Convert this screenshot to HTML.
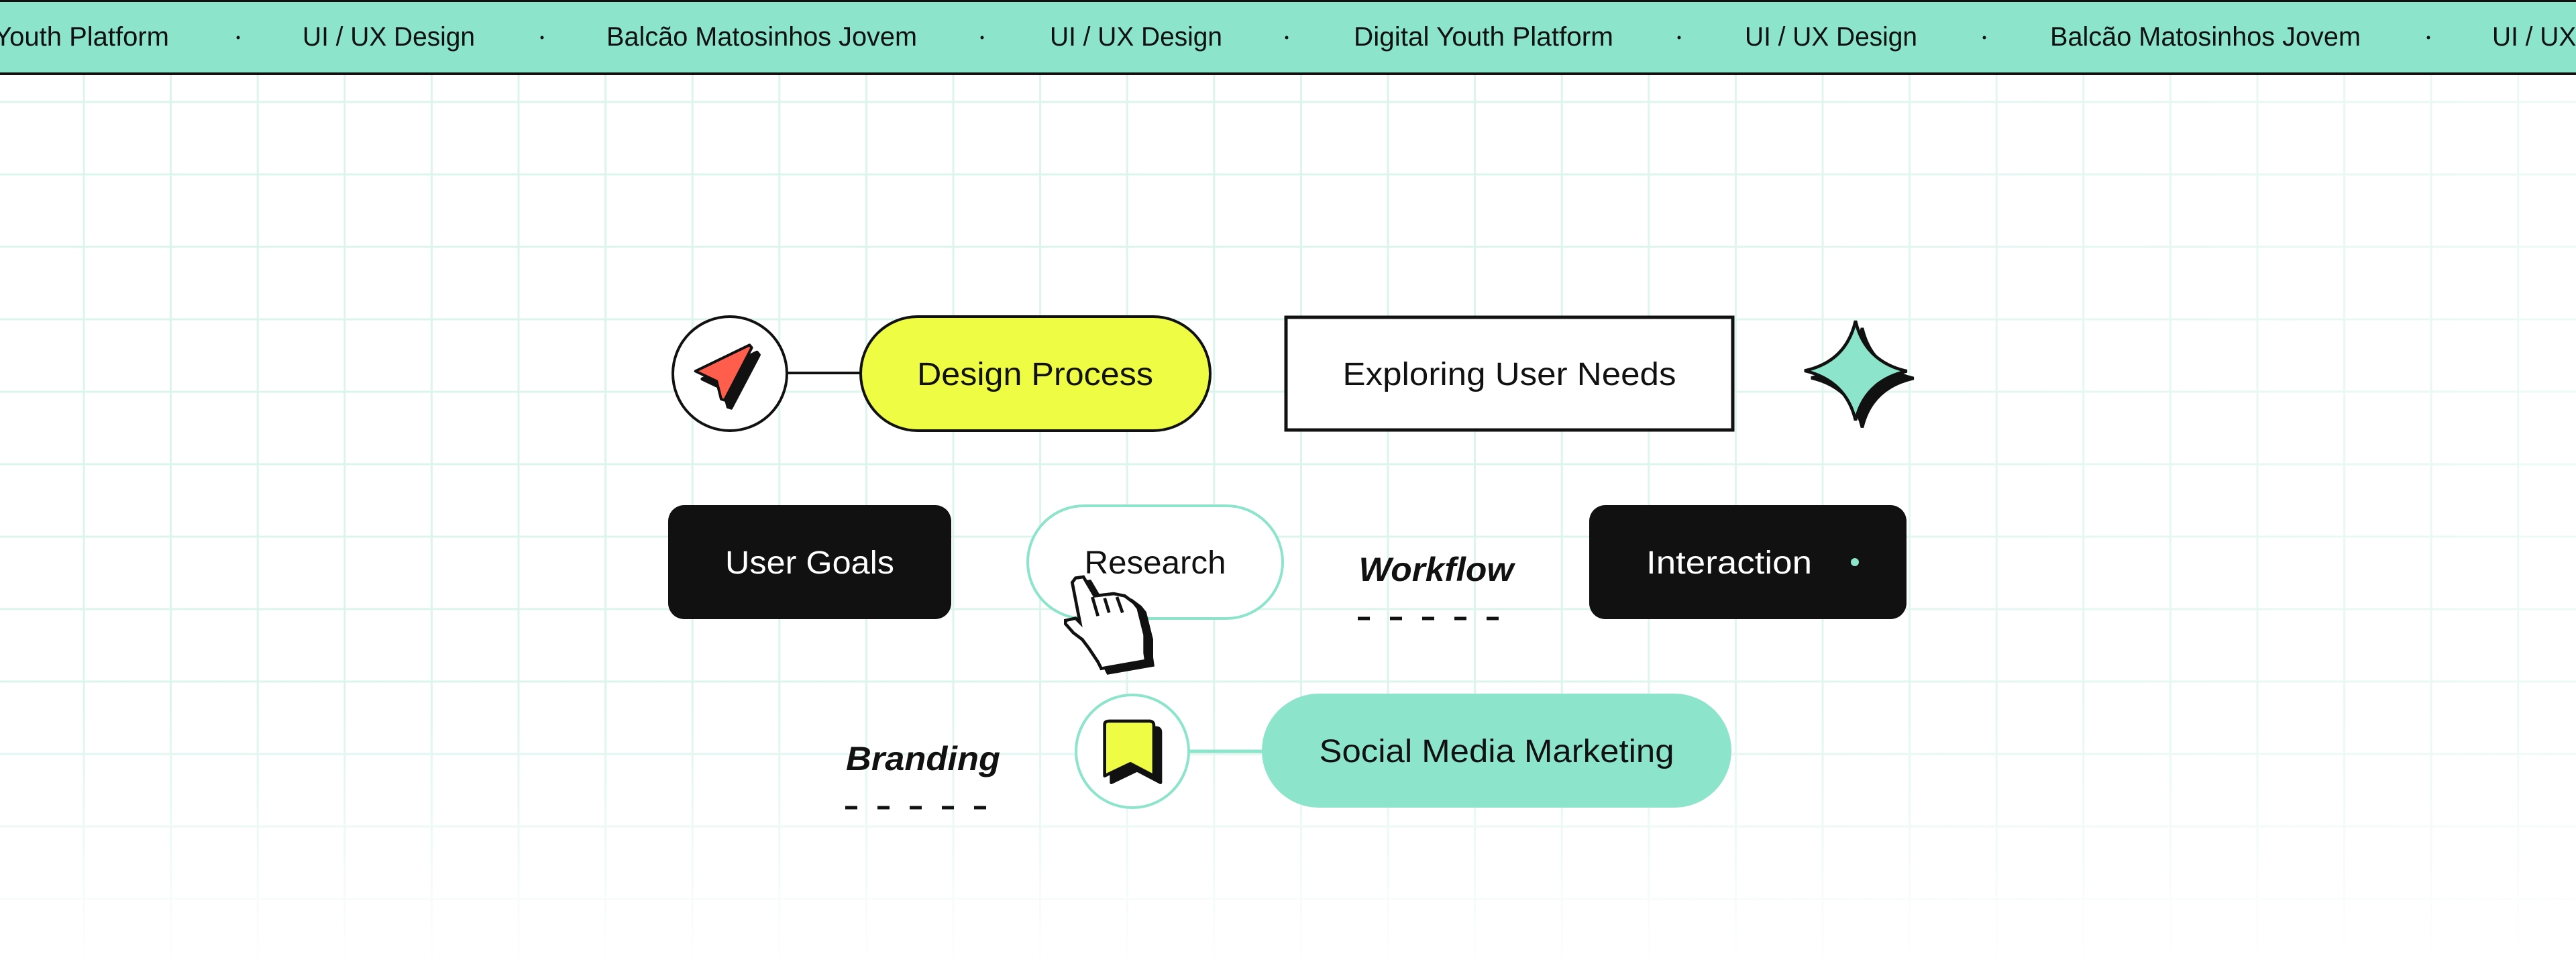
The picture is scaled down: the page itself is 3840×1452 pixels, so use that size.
<!DOCTYPE html>
<html><head><meta charset="utf-8"><style>
html,body{margin:0;padding:0;background:#fff;}
svg{display:block;}
text{font-family:"Liberation Sans",sans-serif;}
</style></head><body>
<svg width="3840" height="1452" viewBox="0 0 3840 1452" xmlns="http://www.w3.org/2000/svg">
<defs>
<linearGradient id="fx" x1="0" y1="0" x2="1" y2="0">
<stop offset="0" stop-color="#fff"/>
<stop offset="0.6" stop-color="#fff"/>
<stop offset="1" stop-color="#888"/>
</linearGradient>
<linearGradient id="fy" x1="0" y1="0" x2="0" y2="1">
<stop offset="0" stop-color="#fff"/>
<stop offset="0.72" stop-color="#fff"/>
<stop offset="1" stop-color="#000"/>
</linearGradient>
<mask id="m1"><rect width="3840" height="1452" fill="url(#fy)"/></mask>
<mask id="m2"><rect width="3840" height="1452" fill="url(#fx)"/></mask>
</defs>
<g mask="url(#m1)"><g mask="url(#m2)" stroke="#dcf4ec" stroke-width="3">
<line x1="125" y1="0" x2="125" y2="1452"/><line x1="254.6" y1="0" x2="254.6" y2="1452"/><line x1="384.2" y1="0" x2="384.2" y2="1452"/><line x1="513.8" y1="0" x2="513.8" y2="1452"/><line x1="643.4" y1="0" x2="643.4" y2="1452"/><line x1="773" y1="0" x2="773" y2="1452"/><line x1="902.6" y1="0" x2="902.6" y2="1452"/><line x1="1032.2" y1="0" x2="1032.2" y2="1452"/><line x1="1161.8" y1="0" x2="1161.8" y2="1452"/><line x1="1291.4" y1="0" x2="1291.4" y2="1452"/><line x1="1421" y1="0" x2="1421" y2="1452"/><line x1="1550.6" y1="0" x2="1550.6" y2="1452"/><line x1="1680.2" y1="0" x2="1680.2" y2="1452"/><line x1="1809.8" y1="0" x2="1809.8" y2="1452"/><line x1="1939.4" y1="0" x2="1939.4" y2="1452"/><line x1="2069" y1="0" x2="2069" y2="1452"/><line x1="2198.6" y1="0" x2="2198.6" y2="1452"/><line x1="2328.2" y1="0" x2="2328.2" y2="1452"/><line x1="2457.8" y1="0" x2="2457.8" y2="1452"/><line x1="2587.4" y1="0" x2="2587.4" y2="1452"/><line x1="2717" y1="0" x2="2717" y2="1452"/><line x1="2846.6" y1="0" x2="2846.6" y2="1452"/><line x1="2976.2" y1="0" x2="2976.2" y2="1452"/><line x1="3105.8" y1="0" x2="3105.8" y2="1452"/><line x1="3235.4" y1="0" x2="3235.4" y2="1452"/><line x1="3365" y1="0" x2="3365" y2="1452"/><line x1="3494.6" y1="0" x2="3494.6" y2="1452"/><line x1="3624.2" y1="0" x2="3624.2" y2="1452"/><line x1="3753.8" y1="0" x2="3753.8" y2="1452"/>
<line x1="0" y1="152" x2="3840" y2="152"/><line x1="0" y1="260" x2="3840" y2="260"/><line x1="0" y1="368" x2="3840" y2="368"/><line x1="0" y1="476" x2="3840" y2="476"/><line x1="0" y1="584" x2="3840" y2="584"/><line x1="0" y1="692" x2="3840" y2="692"/><line x1="0" y1="800" x2="3840" y2="800"/><line x1="0" y1="908" x2="3840" y2="908"/><line x1="0" y1="1016" x2="3840" y2="1016"/><line x1="0" y1="1124" x2="3840" y2="1124"/><line x1="0" y1="1232" x2="3840" y2="1232"/><line x1="0" y1="1340" x2="3840" y2="1340"/><line x1="0" y1="1448" x2="3840" y2="1448"/>
</g></g>

<!-- banner -->
<rect x="0" y="0" width="3840" height="111" fill="#8ce4cb"/>
<rect x="0" y="0" width="3840" height="3" fill="#111"/>
<rect x="0" y="108" width="3840" height="4" fill="#111"/>
<g font-size="40" fill="#111">
<text x="252" y="68" text-anchor="end">Digital Youth Platform</text>
<text x="451" y="68" textLength="257" lengthAdjust="spacingAndGlyphs">UI / UX Design</text>
<text x="904" y="68" textLength="463" lengthAdjust="spacingAndGlyphs">Balcão Matosinhos Jovem</text>
<text x="1565" y="68" textLength="257" lengthAdjust="spacingAndGlyphs">UI / UX Design</text>
<text x="2018" y="68" textLength="387" lengthAdjust="spacingAndGlyphs">Digital Youth Platform</text>
<text x="2601" y="68" textLength="257" lengthAdjust="spacingAndGlyphs">UI / UX Design</text>
<text x="3056" y="68" textLength="463" lengthAdjust="spacingAndGlyphs">Balcão Matosinhos Jovem</text>
<text x="3715" y="68" textLength="257" lengthAdjust="spacingAndGlyphs">UI / UX Design</text>
</g>
<g fill="#111">
<circle cx="355" cy="56" r="2.5"/><circle cx="808" cy="56" r="2.5"/><circle cx="1464" cy="56" r="2.5"/>
<circle cx="1918" cy="56" r="2.5"/><circle cx="2503" cy="56" r="2.5"/><circle cx="2958" cy="56" r="2.5"/><circle cx="3620" cy="56" r="2.5"/>
</g>

<!-- row 1 -->
<line x1="1172" y1="556" x2="1283" y2="556" stroke="#111" stroke-width="4"/>
<circle cx="1088" cy="557" r="85" fill="#fff" stroke="#111" stroke-width="4"/>
<g transform="translate(1000,465) scale(0.3333)" stroke-linejoin="round">
<polygon points="140,300 385,180 395,192 270,430 255,425 235,345" fill="#111" stroke="#111" stroke-width="14"/>
<polygon points="110,265 352,148 362,160 240,395 225,390 205,310" fill="#ff5e4d" stroke="#111" stroke-width="12"/>
</g>
<rect x="1283" y="472" width="521" height="170" rx="85" fill="#eefc44" stroke="#111" stroke-width="4"/>
<text x="1543" y="574" font-size="48" text-anchor="middle" fill="#111" textLength="352" lengthAdjust="spacingAndGlyphs">Design Process</text>
<rect x="1917" y="473" width="666" height="168" fill="#fff" stroke="#111" stroke-width="5"/>
<text x="2250" y="574" font-size="48" text-anchor="middle" fill="#111" textLength="497" lengthAdjust="spacingAndGlyphs">Exploring User Needs</text>
<g transform="translate(2680,470) scale(0.3333)" stroke-linejoin="miter">
<path transform="translate(30,32)" d="M258,25 Q300,208 488,250 Q300,292 258,470 Q216,292 30,248 Q216,208 258,25 Z" fill="#111" stroke="#111" stroke-width="14"/>
<path d="M258,25 Q300,208 488,250 Q300,292 258,470 Q216,292 30,248 Q216,208 258,25 Z" fill="#8ce4cb" stroke="#111" stroke-width="14"/>
</g>

<!-- row 2 -->
<rect x="996" y="753" width="422" height="170" rx="24" fill="#111"/>
<text x="1207" y="855" font-size="48" text-anchor="middle" fill="#fff" textLength="252" lengthAdjust="spacingAndGlyphs">User Goals</text>
<rect x="1532" y="754" width="380" height="168" rx="84" fill="#fff" stroke="#8ce4cb" stroke-width="4"/>
<text x="1722" y="855" font-size="48" text-anchor="middle" fill="#111" textLength="211" lengthAdjust="spacingAndGlyphs">Research</text>
<text x="2141" y="866" font-size="50" font-weight="bold" font-style="italic" text-anchor="middle" fill="#111" textLength="231" lengthAdjust="spacingAndGlyphs">Workflow</text>
<line x1="2024" y1="922" x2="2259" y2="922" stroke="#111" stroke-width="5" stroke-dasharray="18,30"/>
<rect x="2369" y="753" width="473" height="170" rx="24" fill="#111"/>
<text x="2454" y="855" font-size="48" fill="#fff" textLength="247" lengthAdjust="spacingAndGlyphs">Interaction</text>
<circle cx="2765" cy="838" r="6" fill="#8ce4cb"/>

<!-- cursor -->
<g transform="translate(1570,840) scale(0.3333)" stroke-linejoin="miter">
<polygon points="130,85 165,80 215,165 300,155 350,165 390,195 410,220 440,340 440,420 445,455 245,490 230,460 190,400 160,360 120,330 85,290 85,275 130,265 150,285 115,105" fill="#111" stroke="#111" stroke-width="14"/>
<polygon points="100,65 135,60 185,145 270,135 320,145 360,175 380,200 410,320 410,400 415,435 215,470 200,440 160,380 130,340 90,310 55,270 55,255 100,245 120,265 85,85" fill="#fff" stroke="#111" stroke-width="14"/>
<line x1="175" y1="150" x2="200" y2="235" stroke="#111" stroke-width="14"/>
<line x1="230" y1="155" x2="250" y2="220" stroke="#111" stroke-width="14"/>
<line x1="285" y1="150" x2="310" y2="220" stroke="#111" stroke-width="14"/>
</g>

<!-- row 3 -->
<text x="1376" y="1148" font-size="50" font-weight="bold" font-style="italic" text-anchor="middle" fill="#111" textLength="230" lengthAdjust="spacingAndGlyphs">Branding</text>
<line x1="1260" y1="1204" x2="1491" y2="1204" stroke="#111" stroke-width="5" stroke-dasharray="18,30"/>
<line x1="1772" y1="1120" x2="1883" y2="1120" stroke="#8ce4cb" stroke-width="5"/>
<circle cx="1688" cy="1120" r="84" fill="#fff" stroke="#8ce4cb" stroke-width="4"/>
<g transform="translate(1600,1030) scale(0.3333)" stroke-linejoin="round">
<path d="M170,180 Q170,165 190,165 L370,165 Q390,165 390,185 L390,410 L285,355 L170,410 Z" fill="#111" stroke="#111" stroke-width="14"/>
<path d="M140,150 Q140,135 160,135 L340,135 Q360,135 360,155 L360,380 L255,325 L140,380 Z" fill="#eefc44" stroke="#111" stroke-width="14"/>
</g>
<rect x="1881" y="1034" width="700" height="170" rx="85" fill="#8ce4cb"/>
<text x="2231" y="1136" font-size="48" text-anchor="middle" fill="#111" textLength="529" lengthAdjust="spacingAndGlyphs">Social Media Marketing</text>
</svg>
</body></html>
